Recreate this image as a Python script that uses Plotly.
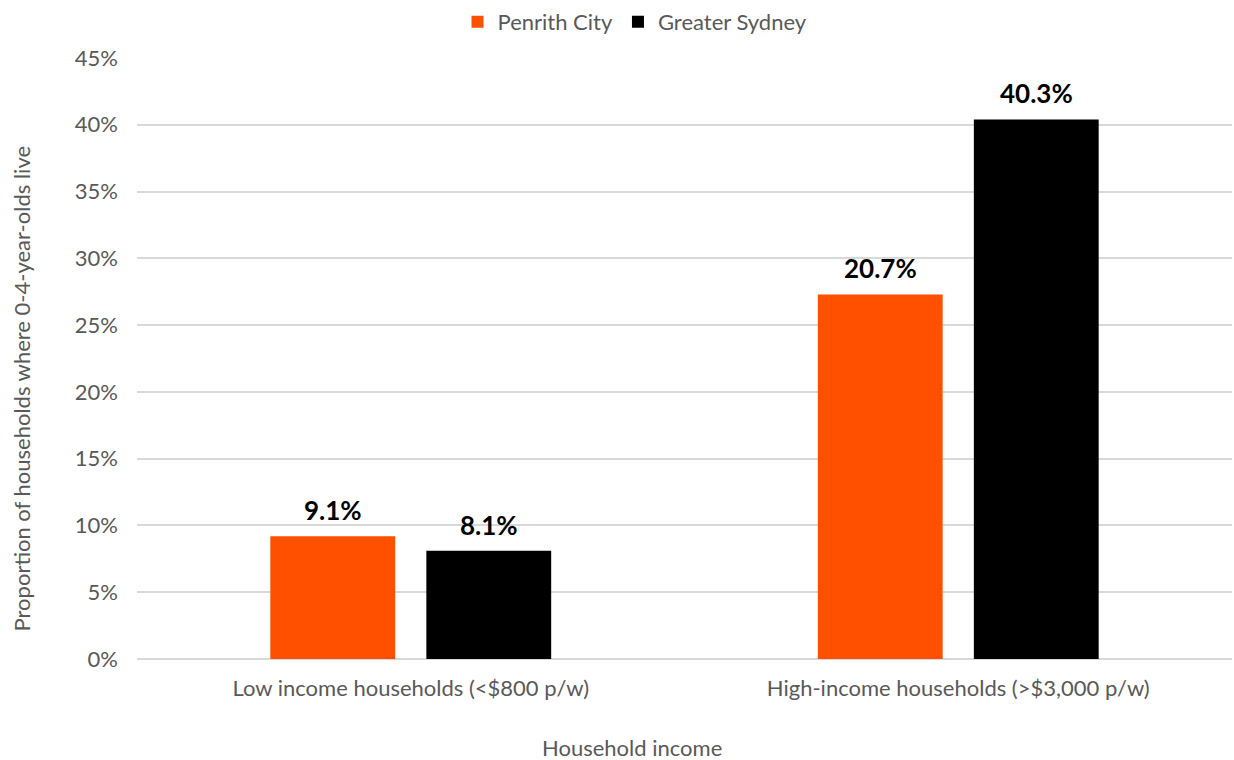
import plotly.graph_objects as go

# household income categories
categories = ["Low income households (<$800 p/w)", "High-income households (>$3,000 p/w)"]

# bar heights as drawn (percent) and the labels printed above them
penrith_values = [9.2, 27.3]
penrith_labels = ["9.1%", "20.7%"]
sydney_values = [8.1, 40.4]
sydney_labels = ["8.1%", "40.3%"]

tick_vals = [0, 5, 10, 15, 20, 25, 30, 35, 40, 45]
tick_text = [f"{v}%" for v in tick_vals]

FONT = "Lato, 'Open Sans', sans-serif"
GREY = "#595959"
ORANGE = "#FF5000"

# plot area in pixels
L, R, T, B = 137, 1232, 57, 659
W, H = 1234, 760

fig = go.Figure()

for name, vals, color in [("Penrith City", penrith_values, ORANGE),
                          ("Greater Sydney", sydney_values, "black")]:
    fig.add_trace(go.Bar(
        x=categories,
        y=vals,
        name=name,
        marker=dict(color=color, line=dict(width=0)),
    ))

# value labels above the bars
annotations = []
for labels, vals, shift in [(penrith_labels, penrith_values, -78),
                            (sydney_labels, sydney_values, 78)]:
    for cat, v, lab in zip(categories, vals, labels):
        annotations.append(dict(
            x=cat, y=v, text=lab,
            xshift=shift, yshift=8,
            xanchor="center", yanchor="bottom",
            showarrow=False,
            font=dict(family=FONT, size=26, color="black", weight="bold"),
        ))

annotations.append(dict(
    text="Household income",
    xref="paper", yref="paper",
    x=(632 - L) / (R - L), y=-(748 - B) / (B - T),
    xanchor="center", yanchor="middle",
    showarrow=False,
    font=dict(family=FONT, size=22, color=GREY),
))
annotations.append(dict(
    text="Proportion of households where 0-4-year-olds live",
    xref="paper", yref="paper",
    x=-(L - 21) / (R - L), y=(B - 388) / (B - T),
    xanchor="center", yanchor="middle",
    textangle=-90,
    showarrow=False,
    font=dict(family=FONT, size=22, color=GREY),
))

fig.update_layout(
    width=W,
    height=H,
    margin=dict(l=L, r=W - R, t=T, b=H - B),
    paper_bgcolor="white",
    plot_bgcolor="white",
    font=dict(family=FONT, size=22, color=GREY),
    barmode="group",
    bargap=0.43,
    bargroupgap=0.2,
    showlegend=True,
    legend=dict(
        orientation="h",
        x=(635 - L) / (R - L), xanchor="center",
        y=1 + (T - 22) / (B - T), yanchor="middle",
        font=dict(family=FONT, size=22, color=GREY),
        traceorder="normal",
    ),
    xaxis=dict(
        showline=False,
        ticks="",
        automargin=False,
        tickfont=dict(family=FONT, size=22, color=GREY),
        ticklabelstandoff=14,
    ),
    yaxis=dict(
        range=[0, 45],
        tickvals=tick_vals,
        ticktext=tick_text,
        showgrid=True,
        gridcolor="#d9d9d9",
        gridwidth=1.5,
        zeroline=True,
        zerolinecolor="#d9d9d9",
        zerolinewidth=1.5,
        showline=False,
        ticks="",
        automargin=False,
        tickfont=dict(family=FONT, size=22, color=GREY),
        ticklabelstandoff=18,
    ),
    annotations=annotations,
)

# drop the page's default body margin so the figure fills the window
fig.write_html(
    "out.html",
    config={"displayModeBar": False},
    post_script="document.body.style.margin='0';document.body.style.overflow='hidden';",
)
